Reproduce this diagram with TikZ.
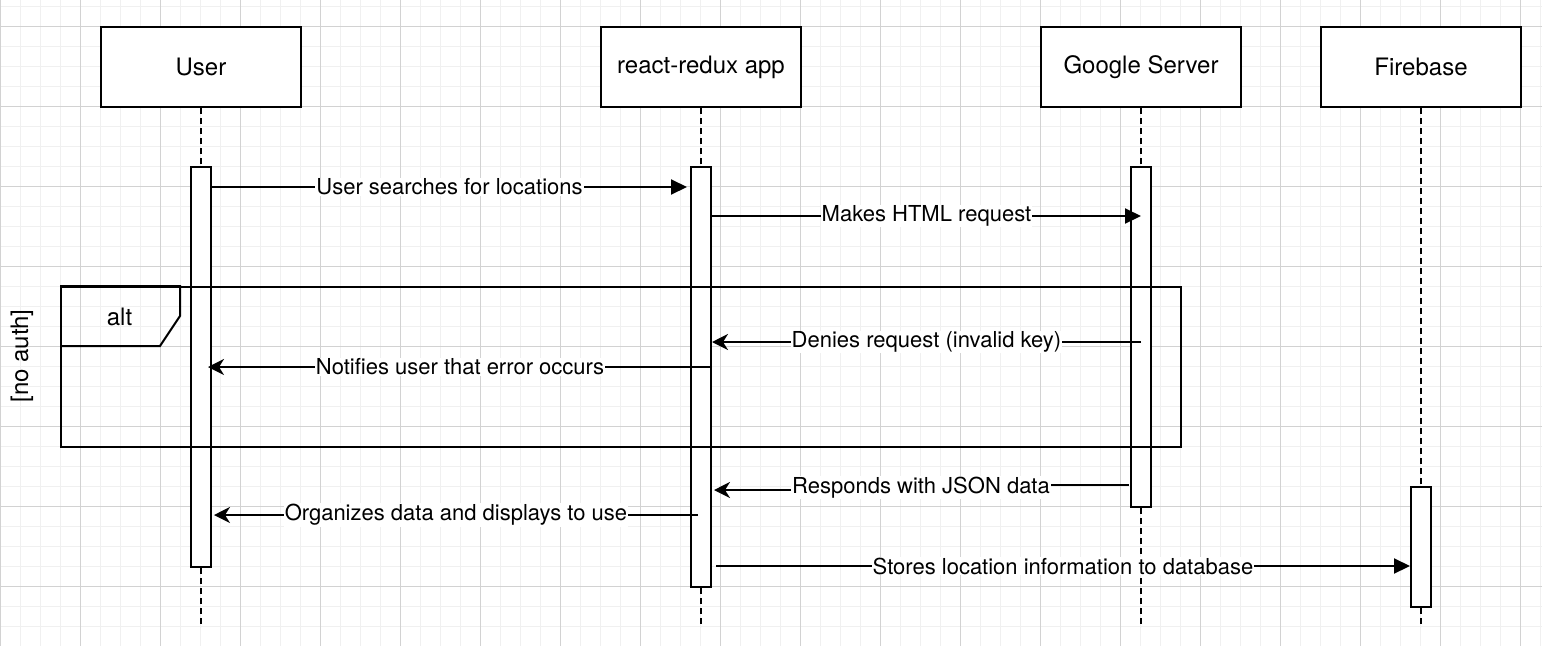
\documentclass[tikz,border=0pt]{standalone}
\usepackage{fontspec}
\setmainfont{TeX Gyre Heros}
\usetikzlibrary{arrows.meta,calc}
\definecolor{gmajor}{RGB}{210,210,210}
\definecolor{gminor}{RGB}{240,240,240}
\begin{document}
\begin{tikzpicture}[x=1pt,y=-1pt,
  every node/.style={font=\fontsize{22}{26}\selectfont},
  big/.style={font=\fontsize{24}{28}\selectfont},
  actor/.style={draw,line width=2pt,fill=white,minimum width=200pt,minimum height=80pt,inner sep=0pt,big},
  lifeline/.style={line width=2pt,dash pattern=on 6pt off 4pt},
  bar/.style={draw,line width=2pt,fill=white,minimum width=20pt,inner sep=0pt},
  msg/.style={line width=2pt,-{Triangle[length=16pt,width=15pt]}},
  ret/.style={line width=2pt,-{Stealth[length=16pt,width=16pt,inset=5pt]}},
  lbl/.style={fill=white,inner sep=1pt},
  frm/.style={line width=2pt},
]
\useasboundingbox (0,0) rectangle (1542,646);
% grid
\begin{scope}
\clip (0,0) rectangle (1542,646);
\foreach \x in {0,20,...,1540} \draw[gminor,line width=1pt] (\x,0) -- (\x,646);
\foreach \k in {0,...,31} \draw[gminor,line width=1pt] (0,6.67+20*\k) -- (1542,6.67+20*\k);
\foreach \x in {0,80,...,1520} \draw[gmajor,line width=1pt] (\x,0) -- (\x,646);
\foreach \k in {0,...,7} \draw[gmajor,line width=1pt] (0,26.67+80*\k) -- (1542,26.67+80*\k);
\end{scope}

% actors
\node[actor] (user) at (201,67) {\raisebox{-1.5pt}{User}};
\node[actor] (app) at (701,67) {\raisebox{-1.5pt}{react-redux app}};
\node[actor] (google) at (1141,67) {\raisebox{-1.5pt}{Google Server}};
\node[actor] (fire) at (1421,67) {\raisebox{-1.5pt}{Firebase}};

% lifelines
\draw[lifeline] (user.south) -- (user.south |- 0,627);
\draw[lifeline] (app.south) -- (app.south |- 0,627);
\draw[lifeline] (google.south) -- (google.south |- 0,627);
\draw[lifeline] (fire.south) -- (fire.south |- 0,627);

% activation bars
\node[bar,minimum height=400pt] (ub) at (201,367) {};
\node[bar,minimum height=420pt] (ab) at (701,377) {};
\node[bar,minimum height=340pt] (gb) at (1141,337) {};
\node[bar,minimum height=120pt] (fb) at (1421,547) {};

% alt frame
\node[draw,frm,minimum width=1120pt,minimum height=160pt,inner sep=0pt] (frame) at (621,367) {};
\draw[frm] (frame.north west) -- ++(120,0) -- ++(0,30) -- ++(-20,30) -- ++(-100,0);
\node[big] (alt) at (119.5,317) {alt};
\node[big,rotate=90] (guard) at (22,356) {[no auth]};

% messages
\coordinate (m1s) at (ub.east |- 0,187);
\coordinate (m1e) at ($(ab.west |- 0,187)+(-3,0)$);
\draw[msg] (m1s) -- node[lbl] {User searches for locations} (m1e);

\coordinate (m2s) at (ab.east |- 0,216);
\coordinate (m2e) at (gb.center |- 0,216);
\draw[msg] (m2s) -- node[lbl] {Makes HTML request} (m2e);

\coordinate (m3s) at (gb.center |- 0,342);
\coordinate (m3e) at (ab.east |- 0,342);
\draw[ret] (m3s) -- node[lbl] {Denies request (invalid key)} (m3e);

\coordinate (m4s) at (ab.east |- 0,367);
\coordinate (m4e) at ($(ub.east |- 0,367)+(-4,0)$);
\draw[ret] (m4s) -- node[lbl] {Notifies user that error occurs} (m4e);

\coordinate (m5s) at ($(gb.west |- 0,485)+(-1,0)$);
\coordinate (m5e) at ($(ab.east |- 0,490)+(2,0)$);
\draw[ret] (m5s) -- (921,485) -- node[lbl] {Responds with JSON data} (921,490) -- (m5e);

\coordinate (m6s) at ($(ab.center |- 0,515)+(-3,0)$);
\coordinate (m6e) at ($(ub.east |- 0,515)+(2,0)$);
\draw[ret] (m6s) -- node[lbl] {Organizes data and displays to use} (m6e);

\coordinate (m7s) at ($(ab.east |- 0,566)+(4,0)$);
\coordinate (m7e) at (fb.west |- 0,566);
\draw[msg] (m7s) -- node[lbl] {Stores location information to database} (m7e);
\end{tikzpicture}
\end{document}
